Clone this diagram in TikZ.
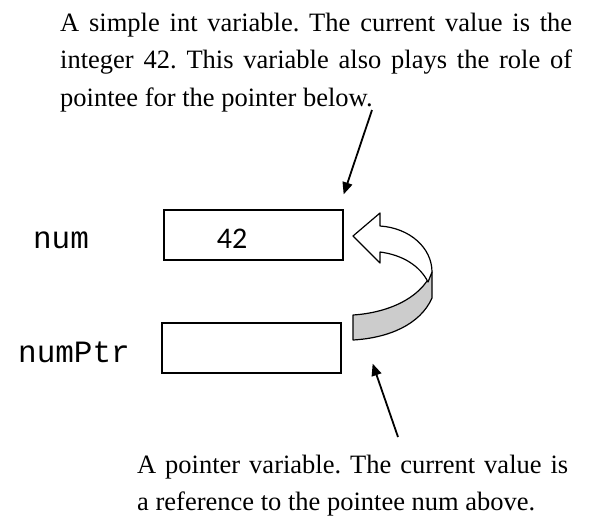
\documentclass[tikz,border=0pt]{standalone}
\usepackage{fontspec}
\setmainfont{Liberation Serif}
\setmonofont{Liberation Mono}
\newfontfamily\valfont{Carlito}
\usetikzlibrary{
  arrows.meta,
  positioning
}

\begin{document}
\frenchspacing
\begin{tikzpicture}[
  x=1pt, y=-1pt,
  note/.style={anchor=base west, inner sep=0pt, align=justify, font=\fontsize{26.5}{37.5}\selectfont},
  varname/.style={anchor=base, inner sep=0pt, font=\ttfamily\fontsize{31}{31}\selectfont},
  cell/.style={draw, line width=1.3pt, minimum width=179pt, minimum height=50pt, inner sep=0pt},
  ptr/.style={line width=1.8pt, -{Triangle[length=12pt,width=10pt]}},
  ribbon/.style={draw, line width=1.2pt, line join=round}
]
\useasboundingbox (0,0) rectangle (589,517);

% pointee description
\node[note, text width=512pt] (pointeeNote) at (60,31) {\noindent A simple int variable. The current value is the\linebreak integer 42. This variable also plays the role of\linebreak pointee for the pointer below.};

% variables
\node[varname] (numLabel) at (61,248) {num};
\node[cell] (numBox) at (253.5,235) {};
\node[anchor=base, inner sep=0pt, font=\valfont\fontsize{30}{30}\selectfont] (numVal) at (232,248) {42};

\node[varname] (ptrLabel) at (74,362) {numPtr};
\node[cell] (ptrBox) at (251.5,348) {};

% --- curved pointer arrow: front face, then back face with head ---
\filldraw[ribbon, fill=black!20] (353,315) .. controls (385,313) and (420,300) .. (432,272)
  -- (432,298) .. controls (420,325) and (388,338) .. (353,340) -- cycle;
\filldraw[ribbon, fill=white] (353,236) -- (380,213) -- (380,226)
  .. controls (410,228) and (432,248) .. (432,272) -- (428,282)
  .. controls (420,266) and (403,255) .. (380,252) -- (380,263) -- cycle;

% callout arrows
\coordinate (belowDot) at (372,110);
\draw[ptr] (belowDot) -- ([yshift=15pt]numBox.north east);
\coordinate (aboveLine) at (398,437);
\draw[ptr] (aboveLine) -- ([xshift=31pt,yshift=10pt]ptrBox.south east);

% pointer description
\node[note, text width=431pt] (pointerNote) at (137,473) {\noindent A pointer variable. The current value is\linebreak a reference to the pointee num above.};

\end{tikzpicture}
\end{document}
